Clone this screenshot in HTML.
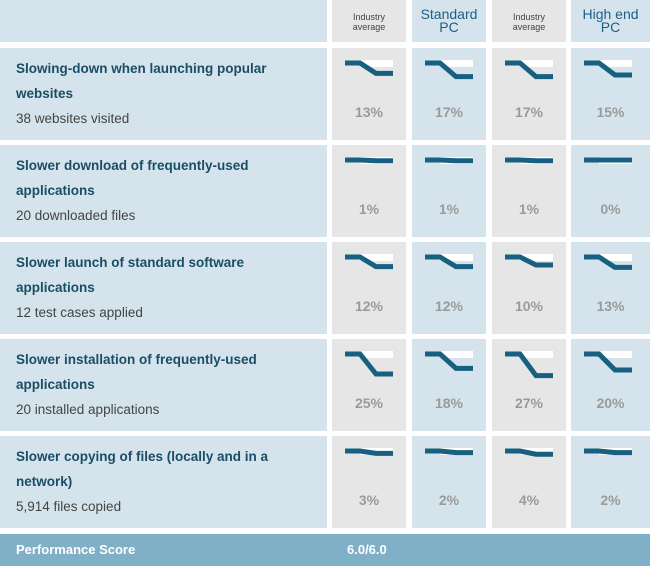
<!DOCTYPE html>
<html><head><meta charset="utf-8">
<style>
body{margin:0;width:650px;height:569px;background:#fff;position:relative;overflow:hidden;font-family:"Liberation Sans",sans-serif}
.c{position:absolute}
.lb{background:#d5e4ec}.gr{background:#e6e6e6}
.hd{position:absolute;text-align:center;color:#444;font-size:9px;line-height:10px}
.hd.big{color:#1d5f86;font-size:14px;line-height:13px}
.t{position:absolute;left:16px;color:#1a4d66;font-weight:bold;font-size:13.5px;line-height:25px;width:300px}
.s{color:#444;font-weight:normal;font-size:13.5px}
.p{position:absolute;width:100%;text-align:center;color:#9a9a9a;font-weight:bold;font-size:14px}
</style></head><body>
<div id="root"></div>
<script>
const colsX=[332,412,492,571];
const colsW=[74,74,74,79];
const headers=["Industry average","Standard PC","Industry average","High end PC"];
const titles=["Slowing-down when launching popular websites","Slower download of frequently-used applications","Slower launch of standard software applications","Slower installation of frequently-used applications","Slower copying of files (locally and in a network)"];
const subs=["38 websites visited","20 downloaded files","12 test cases applied","20 installed applications","5,914 files copied"];
const r0=[13,17,17,15];
const r1=[1,1,1,0];
const r2=[12,12,10,13];
const r3=[25,18,27,20];
const r4=[3,2,4,2];
const rowsVals=[r0,r1,r2,r3,r4];
const rowTop=[48,145,242,339,436];
const rowH=92;
const yDrop=v=>v*0.8;
const b=document.body;
function mk(cls,x,y,w,h,name){const d=document.createElement('div');d.className='c '+cls;d.style.cssText=`left:${x}px;top:${y}px;width:${w}px;height:${h}px`;


b.appendChild(d);return d;}
mk('lb',0,0,327,42,'header-blank');
headers.forEach((h,i)=>{const d=mk(i%2?'lb':'gr',colsX[i],0,colsW[i],42,'column-header');
const big=i%2==1;const words=h.split(' ');const l1=big?(i==1?'Standard':'High end'):'Industry';const l2=big?'PC':'average';
d.innerHTML=`<div class="hd${big?' big':''}" style="left:0;right:0;top:${big?8:12}px">${l1}<br>${l2}</div>`;});
rowTop.forEach((y,r)=>{
const l=mk('lb',0,y,327,rowH,'row-label');
const words=titles[r];
l.innerHTML=`<div class="t" style="top:8px">${titles[r]}<br><span class="s">${subs[r]}</span></div>`;
rowsVals[r].forEach((v,i)=>{const d=mk(i%2?'lb':'gr',colsX[i],y,colsW[i],rowH,'result-cell');
const dy=yDrop(v);const x0=13,x1=28,x2=44,x3=61,ty=15;
d.innerHTML=`<svg width="${colsW[i]}" height="50" style="position:absolute;left:0;top:0"><rect x="${x1}" y="${ty-3}" width="${x3-x1}" height="7" fill="#fff"/><polyline points="${x0},${ty} ${x1},${ty} ${x2},${ty+dy} ${x3},${ty+dy}" fill="none" stroke="#17607f" stroke-width="5"/></svg><div class="p" style="top:56px">${v}%</div>`;
const svg=d.querySelector('svg');
});});
const sc=mk('',0,534,650,32,'performance-score-bar');sc.style.background='#80afc8';
sc.innerHTML='<div style="position:absolute;left:16px;top:8px;color:#fff;font-weight:bold;font-size:13px">Performance Score</div><div style="position:absolute;left:347px;top:8px;color:#fff;font-weight:bold;font-size:13px">6.0/6.0</div>';
</script>
</body></html>
